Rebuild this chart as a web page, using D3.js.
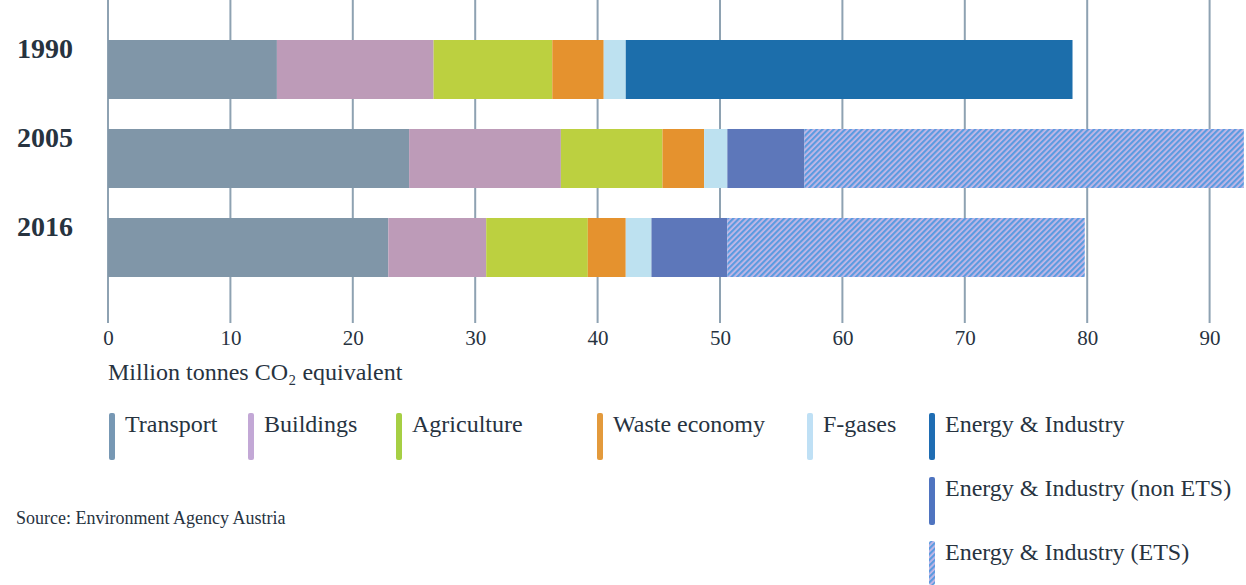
<!DOCTYPE html>
<html>
<head>
<meta charset="utf-8">
<script src="https://cdn.jsdelivr.net/npm/d3@7/dist/d3.min.js"></script>
<style>
  html, body { margin: 0; padding: 0; background: #fff; }
  svg { display: block; }
  text { font-family: "Liberation Serif", "DejaVu Serif", serif; fill: #27333f; }
</style>
</head>
<body>
<svg id="chart" width="1246" height="585"></svg>
<script>
// ---- data ----
const years = ["1990", "2005", "2016"];
const seriesKeys = ["Transport", "Buildings", "Agriculture", "Waste economy", "F-gases",
  "Energy & Industry", "Energy & Industry (non ETS)", "Energy & Industry (ETS)"];
const transport = [13.8, 24.6, 22.9];
const buildings = [12.8, 12.4, 8.0];
const agriculture = [9.7, 8.3, 8.3];
const wasteEconomy = [4.2, 3.4, 3.1];
const fGases = [1.8, 1.9, 2.1];
const energyIndustry = [36.5, 0, 0];
const energyNonETS = [0, 6.3, 6.2];
const energyETS = [0, 35.9, 29.2];
const xTicks = [0, 10, 20, 30, 40, 50, 60, 70, 80, 90];
const axisTitle = "Million tonnes CO\u2082 equivalent";
const sourceText = "Source: Environment Agency Austria";

const seriesValues = [transport, buildings, agriculture, wasteEconomy, fGases,
  energyIndustry, energyNonETS, energyETS];
const colors = ["#8096a8", "#bd9bb8", "#bcd040", "#e5922e", "#bde1f0", "#1c6eab", "#5d77ba", "url(#etsHatch)"];
const legendColors = ["#7798b4", "#c3a8d6", "#a6cf44", "#e39a3c", "#bfe0f5", "#1f6db3", "#4f74c0", "url(#etsHatchLegend)"];

const table = years.map((y, i) => {
  const row = { year: y };
  seriesKeys.forEach((k, j) => row[k] = seriesValues[j][i]);
  return row;
});

const svg = d3.select("#chart");
const defs = svg.append("defs");
function hatch(id, size) {
  const p = defs.append("pattern").attr("id", id)
    .attr("patternUnits", "userSpaceOnUse")
    .attr("width", size).attr("height", size)
    .attr("patternTransform", "rotate(45)");
  p.append("rect").attr("width", size).attr("height", size).attr("fill", "#c7b8e6");
  p.append("rect").attr("width", size * 0.55).attr("height", size).attr("fill", "#5b9be0");
}
hatch("etsHatch", 4);
hatch("etsHatchLegend", 4);

const x = d3.scaleLinear().domain([0, 100]).range([108, 108 + 12.24 * 100]);
const y = d3.scaleBand().domain(years).range([40, 277]).paddingInner(0.337).paddingOuter(0);

// gridlines
const grid = svg.append("g").attr("class", "grid");
grid.selectAll("line").data(xTicks).join("line")
  .attr("x1", d => x(d)).attr("x2", d => x(d))
  .attr("y1", 0).attr("y2", 323)
  .attr("stroke", "#8ea2b2").attr("stroke-width", 2);

// bars
const stack = d3.stack().keys(seriesKeys);
const stacked = stack(table);
const barsG = svg.append("g");
stacked.forEach((layer, j) => {
  barsG.append("g").attr("fill", colors[j])
    .selectAll("rect").data(layer.filter(d => d[1] - d[0] > 0)).join("rect")
    .attr("x", d => x(d[0]))
    .attr("y", d => y(d.data.year))
    .attr("width", d => x(d[1]) - x(d[0]))
    .attr("height", y.bandwidth());
});

// year labels
svg.append("g").selectAll("text").data(years).join("text")
  .attr("x", 45).attr("y", d => y(d) + 18)
  .attr("text-anchor", "middle")
  .attr("font-size", 28).attr("font-weight", "bold")
  .text(d => d);

// x axis labels
const axis = d3.axisBottom(x).tickValues(xTicks).tickSize(0).tickPadding(0);
const axG = svg.append("g").attr("transform", "translate(0,329)").call(axis);
axG.select(".domain").remove();
axG.selectAll("text").attr("font-size", 21).attr("fill", "#27333f")
  .attr("font-family", "Liberation Serif, serif").attr("dy", "0.75em").attr("y", 0);

svg.append("text").attr("x", 108).attr("y", 380).attr("font-size", 24).text(axisTitle);

// legend
const legendItems = [
  { i: 0, x: 109, y: 413, h: 47 },
  { i: 1, x: 248, y: 413, h: 47 },
  { i: 2, x: 396, y: 413, h: 47 },
  { i: 3, x: 597, y: 413, h: 47 },
  { i: 4, x: 807, y: 413, h: 47 },
  { i: 5, x: 929, y: 413, h: 47 },
  { i: 6, x: 929, y: 477, h: 48 },
  { i: 7, x: 929, y: 541, h: 44 }
];
const lg = svg.append("g");
legendItems.forEach(it => {
  lg.append("rect").attr("x", it.x).attr("y", it.y).attr("width", 6).attr("height", it.h)
    .attr("rx", 2).attr("fill", legendColors[it.i]);
  lg.append("text").attr("x", it.x + 16).attr("y", it.y + 19).attr("font-size", 24)
    .text(seriesKeys[it.i]);
});

svg.append("text").attr("x", 16).attr("y", 524).attr("font-size", 18).text(sourceText);
</script>
</body>
</html>
